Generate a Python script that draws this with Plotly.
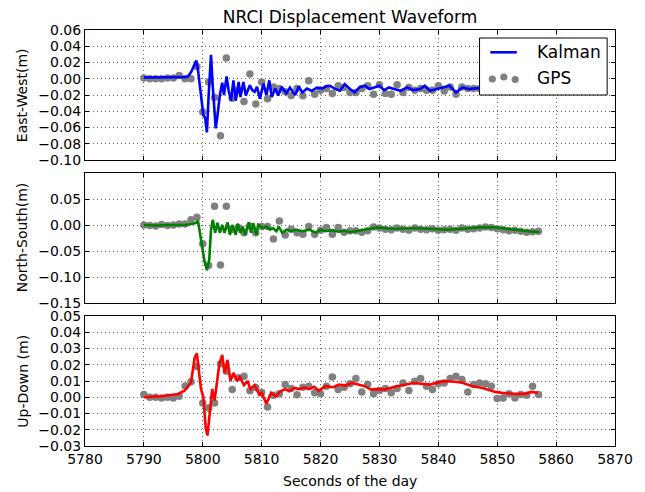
import plotly.graph_objects as go
from plotly.subplots import make_subplots

# ---------------- data ----------------
# GPS epochs (1 Hz)
gps_t = list(range(5790, 5858))

gps_ew = [0.001, 0.000, 0.000, 0.000, 0.001, 0.001, 0.004, 0.000, 0.000, 0.015,
          -0.041, -0.004, -0.023, -0.070, 0.0255, -0.024, -0.014, -0.028, 0.006, -0.031,
          -0.004, -0.0246, -0.010, -0.012, -0.016, -0.0205, -0.012, -0.021, -0.0025, -0.019,
          -0.014, -0.012, -0.018, -0.0086, -0.0107, -0.017, -0.017, -0.012, -0.0086, -0.019,
          -0.0074, -0.018, -0.019, -0.0074, -0.017, -0.0107, -0.014, -0.012, -0.014, -0.014,
          -0.0086, -0.015, -0.010, -0.019, -0.010, -0.012, -0.012, -0.012, -0.013, -0.011,
          -0.014, -0.012, -0.013, -0.011, -0.012, -0.014, -0.012, -0.013]

gps_ns = [0.000, -0.001, -0.002, 0.001, -0.001, 0.000, 0.002, 0.002, 0.010, 0.015,
          -0.036, -0.078, 0.036, -0.077, 0.036, -0.008, -0.005, -0.015, -0.002, -0.015,
          -0.003, -0.003, -0.027, 0.0075, -0.019, -0.008, -0.015, -0.018, -0.003, -0.018,
          -0.010, -0.005, -0.018, -0.005, -0.014, -0.011, -0.011, -0.014, -0.011, -0.004,
          -0.006, -0.008, -0.009, -0.006, -0.008, -0.010, -0.006, -0.008, -0.009, -0.007,
          -0.010, -0.009, -0.008, -0.010, -0.006, -0.008, -0.007, -0.006, -0.004, -0.005,
          -0.007, -0.009, -0.011, -0.010, -0.012, -0.014, -0.013, -0.012]

gps_ud = [0.0017, 0.0, 0.0, -0.0004, 0.0, -0.0004, 0.0006, 0.007, 0.0095, 0.019,
          -0.0035, -0.0066, -0.0035, 0.0206, 0.016, 0.0047, 0.012, 0.013, 0.004, 0.006,
          0.003, -0.006, 0.0012, 0.0021, 0.0078, 0.0054, 0.0016, 0.0062, 0.0068, 0.0027,
          0.0021, 0.0068, 0.0124, 0.0047, 0.0062, 0.0083, 0.0115, 0.0033, 0.0080, 0.0021,
          0.0041, 0.0054, 0.0027, 0.0054, 0.0088, 0.0041, 0.0099, 0.0115, 0.0068, 0.0047,
          0.0083, 0.0088, 0.0115, 0.013, 0.011, 0.0033, 0.0078, 0.0088, 0.0083, 0.0068,
          -0.0008, -0.0004, 0.0021, -0.0004, 0.0017, 0.0012, 0.0068, 0.0017]

# Kalman filtered displacement (East-West)
kal_ew_t = [5790.0, 5792.0, 5794.0, 5796.0, 5797.0, 5797.5, 5798.0, 5798.5, 5798.9, 5799.2,
            5799.5, 5799.7, 5800.1, 5800.4, 5800.7, 5801.0, 5801.4, 5801.7, 5802.0, 5802.2,
            5802.5, 5802.9, 5803.3, 5803.6, 5804.05, 5804.4, 5804.8, 5805.2, 5805.6, 5806.1,
            5806.4, 5806.9, 5807.3, 5807.7, 5808.0, 5808.4, 5808.8, 5809.2, 5809.7, 5810.3,
            5810.8, 5811.3, 5811.7, 5812.3, 5812.8, 5813.4, 5814.2, 5814.8, 5815.7, 5816.3,
            5816.9, 5817.7, 5818.5, 5819.4, 5820.3, 5821.1, 5821.6, 5822.5, 5823.3, 5824.1,
            5825.0, 5825.8, 5826.6, 5827.5, 5828.3, 5829.1, 5830.0, 5830.8, 5831.6, 5832.5,
            5833.6, 5834.7, 5835.8, 5836.9, 5837.7, 5838.6, 5839.7, 5840.8, 5841.9, 5843.0,
            5844.1, 5845.2, 5846.6, 5848.5, 5851.0, 5854.0, 5857.0]
kal_ew = [0.0015, 0.0015, 0.0018, 0.0018, 0.0020, 0.0030, 0.0080, 0.0160, 0.0225, 0.0100,
          -0.0100, -0.0205, -0.0450, -0.0480, -0.0660, -0.0200, 0.0295, -0.0100, -0.0500, -0.0610,
          -0.0450, -0.0200, -0.0050, -0.0200, 0.0030, -0.0150, -0.0270, -0.0020, -0.0270, -0.0040,
          -0.0225, -0.0040, -0.0205, -0.0120, -0.0080, -0.0140, -0.0160, -0.0100, -0.0246, -0.0060,
          -0.0200, -0.0020, -0.0225, -0.0120, -0.0205, -0.0100, -0.0180, -0.0110, -0.0200, -0.0095,
          -0.0170, -0.0120, -0.0150, -0.0110, -0.0120, -0.0090, -0.0086, -0.0127, -0.0148, -0.0066,
          -0.0127, -0.0168, -0.0107, -0.0086, -0.0127, -0.0107, -0.0086, -0.0140, -0.0107, -0.0127,
          -0.0148, -0.0107, -0.0140, -0.0127, -0.0086, -0.0148, -0.0127, -0.0107, -0.0086, -0.0168,
          -0.0107, -0.0127, -0.0115, -0.0120, -0.0125, -0.0120, -0.0125]

# Kalman filtered displacement (North-South)
kal_ns_t = [5790.0, 5792.0, 5794.0, 5796.0, 5797.0, 5798.0, 5798.8, 5799.2, 5799.7, 5800.3,
            5800.7, 5801.1, 5801.4, 5801.7, 5802.1, 5802.5, 5802.9, 5803.3, 5803.7, 5804.2,
            5804.6, 5805.0, 5805.6, 5805.9, 5806.4, 5806.8, 5807.2, 5807.8, 5808.2, 5808.6,
            5809.1, 5809.4, 5810.2, 5810.8, 5811.4, 5811.9, 5812.5, 5812.9, 5813.5, 5814.2,
            5815.0, 5815.8, 5816.9, 5818.1, 5819.2, 5820.0, 5820.8, 5822.0, 5823.0, 5824.0,
            5825.0, 5826.0, 5827.0, 5827.5, 5829.7, 5831.5, 5833.1, 5835.8, 5838.6, 5841.4,
            5844.2, 5846.9, 5849.7, 5851.4, 5853.6, 5855.3, 5857.2]
kal_ns = [0.000, -0.001, 0.000, -0.0005, 0.000, 0.002, 0.004, 0.007, -0.028, -0.070,
          -0.087, -0.066, -0.009, 0.010, -0.015, 0.004, -0.015, 0.000, -0.015, 0.005,
          -0.019, 0.000, -0.019, 0.0025, -0.015, -0.003, -0.019, 0.005, -0.015, 0.003,
          -0.019, 0.0006, -0.006, -0.003, -0.009, -0.006, -0.012, -0.003, -0.015, -0.009,
          -0.012, -0.009, -0.012, -0.009, -0.015, -0.009, -0.012, -0.010, -0.013, -0.011,
          -0.014, -0.012, -0.010, -0.009, -0.0046, -0.0068, -0.0071, -0.0058, -0.0075, -0.0090,
          -0.0071, -0.0046, -0.0046, -0.0071, -0.0103, -0.0120, -0.0140]

# Kalman filtered displacement (Up-Down)
kal_ud_t = [5790.0, 5793.0, 5795.8, 5796.9, 5798.0, 5798.6, 5799.0, 5799.3, 5799.7, 5800.1,
            5800.5, 5800.8, 5801.2, 5801.6, 5802.0, 5802.3, 5802.8, 5803.3, 5803.7, 5804.2,
            5804.7, 5805.2, 5805.8, 5806.3, 5807.0, 5807.6, 5808.1, 5808.8, 5809.6, 5810.0,
            5810.8, 5811.6, 5812.4, 5813.2, 5814.0, 5814.7, 5815.5, 5816.4, 5817.2, 5818.1,
            5818.9, 5819.7, 5820.8, 5822.2, 5823.1, 5824.2, 5825.3, 5826.4, 5827.5, 5828.6,
            5829.5, 5830.8, 5833.0, 5835.8, 5838.6, 5840.8, 5843.0, 5844.2, 5845.8, 5847.5,
            5849.7, 5850.8, 5853.0, 5854.7, 5855.8, 5856.9]
kal_ud = [0.000, 0.0006, 0.002, 0.004, 0.009, 0.024, 0.027, 0.018, 0.005, 0.000,
          -0.019, -0.0235, -0.011, 0.005, -0.002, 0.007, 0.020, 0.026, 0.015, 0.023,
          0.010, 0.015, 0.010, 0.0125, 0.0074, 0.010, 0.005, 0.0074, 0.0016, 0.0027,
          -0.004, 0.0027, 0.0006, 0.0037, 0.005, 0.0037, 0.0057, 0.005, 0.006, 0.005,
          0.0065, 0.004, 0.0068, 0.0062, 0.0078, 0.0072, 0.0088, 0.0078, 0.0068, 0.0047,
          0.0050, 0.0047, 0.0068, 0.0088, 0.0078, 0.0099, 0.0095, 0.0088, 0.0068, 0.0057,
          0.0033, 0.0027, 0.0021, 0.0021, 0.0033, 0.0027]

x_range = [5780, 5870]
ew_range = [-0.10, 0.06]
ns_range = [-0.15, 0.10]
ns_ticks = [-0.15, -0.10, -0.05, 0.00, 0.05]
ud_range = [-0.03, 0.05]

# ---------------- figure ----------------
FONT = "DejaVu Sans"
W, H = 645, 492
ML, MR, MT, MB = 85, 20, 30, 46
PW, PH = W - ML - MR, H - MT - MB

fig = make_subplots(rows=3, cols=1, shared_xaxes=True, vertical_spacing=13 / PH)

panels = [
    (1, gps_ew, kal_ew_t, kal_ew, "#0000ff"),
    (2, gps_ns, kal_ns_t, kal_ns, "#008000"),
    (3, gps_ud, kal_ud_t, kal_ud, "#ff0000"),
]
for row, gps, kt, kv, col in panels:
    fig.add_trace(go.Scatter(x=gps_t, y=gps, mode="markers", name="GPS",
                             marker=dict(color="#808080", size=7.5, line=dict(width=0)),
                             showlegend=False), row=row, col=1)
    fig.add_trace(go.Scatter(x=kt, y=kv, mode="lines", name="Kalman",
                             line=dict(color=col, width=2.6),
                             showlegend=False), row=row, col=1)

axis_common = dict(
    showline=True, linecolor="black", linewidth=1, mirror="ticks",
    ticks="inside", ticklen=4, tickcolor="black", tickwidth=1,
    showgrid=True, gridcolor="rgba(0,0,0,0.6)", griddash="1px,3px", gridwidth=1,
    zeroline=False, tickfont=dict(family=FONT, size=14, color="black"),
)
for r in (1, 2, 3):
    fig.update_xaxes(range=x_range, tick0=5780, dtick=10, showticklabels=(r == 3),
                     row=r, col=1, **axis_common)

fig.update_yaxes(range=ew_range, dtick=0.02, tick0=0, tickformat=".2f", row=1, col=1, **axis_common)
fig.update_yaxes(range=ns_range, tickvals=ns_ticks, tickformat=".2f", row=2, col=1, **axis_common)
fig.update_yaxes(range=ud_range, dtick=0.01, tick0=0, tickformat=".2f", row=3, col=1, **axis_common)


def px_x(px):
    return (px - ML) / PW


def px_y(py):
    return (H - MB - py) / PH


annotations = [
    dict(text="Seconds of the day", x=0.5, y=px_y(481), xref="paper", yref="paper",
         showarrow=False, font=dict(family=FONT, size=14, color="black"),
         xanchor="center", yanchor="middle"),
]
for label, yc in [("East-West(m)", 95), ("North-South(m)", 238), ("Up-Down (m)", 381.5)]:
    annotations.append(dict(text=label, x=px_x(21), y=px_y(yc), xref="paper", yref="paper",
                            showarrow=False, textangle=-90,
                            font=dict(family=FONT, size=14, color="black"),
                            xanchor="center", yanchor="middle"))

# legend box drawn in the top panel
annotations += [
    dict(text="Kalman", x=px_x(543), y=px_y(52), xref="paper", yref="paper",
         showarrow=False, font=dict(family=FONT, size=17, color="black"),
         xanchor="left", yanchor="middle"),
    dict(text="GPS", x=px_x(543), y=px_y(78), xref="paper", yref="paper",
         showarrow=False, font=dict(family=FONT, size=17, color="black"),
         xanchor="left", yanchor="middle"),
]

shapes = [
    dict(type="rect", xref="paper", yref="paper", x0=px_x(487), x1=px_x(617),
         y0=px_y(95), y1=px_y(38), fillcolor="white", line=dict(color="black", width=1),
         layer="above"),
    dict(type="line", xref="paper", yref="paper", x0=px_x(498), x1=px_x(525),
         y0=px_y(52.3), y1=px_y(52.3), line=dict(color="#0000ff", width=2.6), layer="above"),
]
for dx, dy in [(500, 79), (511.7, 77), (523.3, 79.5)]:
    shapes.append(dict(type="circle", xref="paper", yref="paper",
                       xsizemode="pixel", ysizemode="pixel",
                       xanchor=px_x(dx), yanchor=px_y(dy),
                       x0=-3.6, x1=3.6, y0=-3.6, y1=3.6,
                       fillcolor="#808080", line=dict(width=0), layer="above"))

fig.update_layout(
    width=W, height=H,
    margin=dict(l=ML, r=MR, t=MT, b=MB),
    paper_bgcolor="white", plot_bgcolor="white",
    title=dict(text="NRCI Displacement Waveform", x=0.5, xref="paper",
               y=1 - 17 / H, yref="container", xanchor="center", yanchor="middle",
               font=dict(family=FONT, size=17, color="black")),
    annotations=annotations,
    shapes=shapes,
    showlegend=False,
)

fig.write_html("out.html")
